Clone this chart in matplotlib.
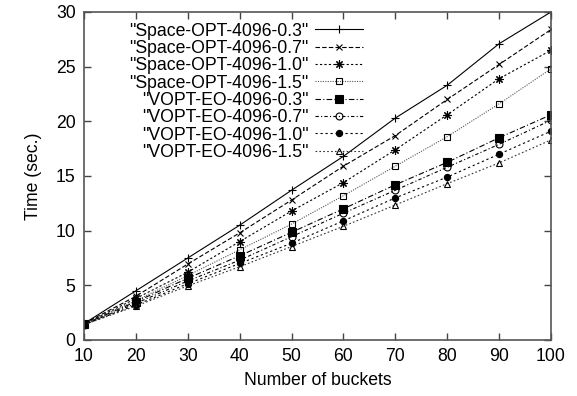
import matplotlib
matplotlib.use("Agg")
import matplotlib.pyplot as plt

plt.rcParams['font.family'] = ['Liberation Sans', 'DejaVu Sans']

buckets = [10, 20, 30, 40, 50, 60, 70, 80, 90, 100]

labels = ['"Space-OPT-4096-0.3"', '"Space-OPT-4096-0.7"', '"Space-OPT-4096-1.0"',
          '"Space-OPT-4096-1.5"', '"VOPT-EO-4096-0.3"', '"VOPT-EO-4096-0.7"',
          '"VOPT-EO-4096-1.0"', '"VOPT-EO-4096-1.5"']

space_03 = [1.5, 4.5, 7.5, 10.5, 13.7, 16.8, 20.3, 23.3, 27.1, 30.0]
space_07 = [1.5, 4.0, 6.95, 9.8, 12.8, 15.9, 18.7, 22.0, 25.2, 28.4]
space_10 = [1.45, 3.8, 6.2, 9.0, 11.8, 14.4, 17.4, 20.6, 23.9, 26.5]
space_15 = [1.45, 3.6, 5.9, 8.25, 10.6, 13.2, 15.9, 18.6, 21.6, 24.8]
vopt_03 = [1.45, 3.5, 5.65, 7.7, 9.85, 12.0, 14.2, 16.25, 18.5, 20.6]
vopt_07 = [1.4, 3.35, 5.4, 7.3, 9.45, 11.6, 13.7, 15.8, 17.9, 20.1]
vopt_10 = [1.4, 3.2, 5.15, 7.0, 8.85, 10.9, 13.0, 14.9, 17.0, 19.1]
vopt_15 = [1.4, 3.1, 4.95, 6.7, 8.55, 10.4, 12.35, 14.3, 16.2, 18.3]

series = [space_03, space_07, space_10, space_15, vopt_03, vopt_07, vopt_10, vopt_15]

styles = [
    dict(color='black', linestyle='-', marker='+', ms=6, mfc='black'),
    dict(color='black', linestyle=(0, (4, 2)), marker='x', ms=5, mfc='black'),
    dict(color='black', linestyle=(0, (2, 2)), marker=(8, 2, 0), ms=6, mfc='black'),
    dict(color='#555555', linestyle=(0, (1, 1.2)), marker='s', ms=5, mfc='none', mec='black'),
    dict(color='black', linestyle=(0, (5, 2, 1, 2)), marker='s', ms=6, mfc='black'),
    dict(color='black', linestyle=(0, (3, 2, 1, 2)), marker='o', ms=5, mfc='none'),
    dict(color='black', linestyle=(0, (2, 2.5)), marker='o', ms=4.5, mfc='black'),
    dict(color='#333333', linestyle=(0, (1.5, 2)), marker='^', ms=5, mfc='none', mec='black'),
]

FS = 12.7

fig = plt.figure(figsize=(5.77, 3.96), dpi=100)
ax = fig.add_axes([84/577, 1-340/396, (551-84)/577, (340-12)/396])

for vals, lab, st in zip(series, labels, styles):
    ax.plot(buckets, vals, label=lab, linewidth=0.8, markeredgewidth=0.8, **st)

ax.set_xlim(10, 100)
ax.set_ylim(0, 30)
ax.set_xticks(buckets)
ax.set_yticks([0, 5, 10, 15, 20, 25, 30])
ax.tick_params(direction='in', length=5, width=1, top=True, right=True,
               labelsize=FS, pad=6, color='#444444')
for sp in ax.spines.values():
    sp.set_color('#555555')
    sp.set_linewidth(1.2)

ax.set_xlabel('Number of buckets', fontsize=FS, labelpad=5)
ax.set_ylabel('Time (sec.)', fontsize=FS, labelpad=10)

leg = ax.legend(loc='upper right', bbox_to_anchor=((363-84)/467, (340-22.5)/328),
                frameon=False, markerfirst=False, fontsize=FS, handlelength=2.7,
                handletextpad=0.4, labelspacing=0.02, borderpad=0, borderaxespad=0)

fig.savefig('out.png', dpi=100)
